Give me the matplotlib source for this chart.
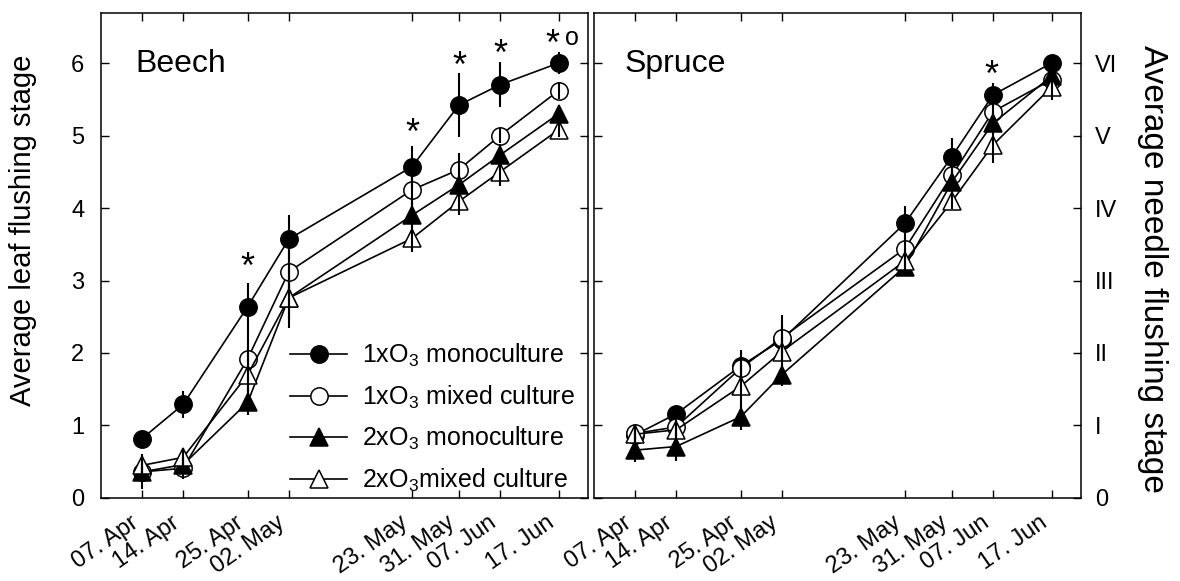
import matplotlib
matplotlib.use("Agg")
import matplotlib.pyplot as plt
import matplotlib.dates as mdates
import numpy as np
import pandas as pd

plt.rcParams['font.family'] = ['Liberation Sans', 'DejaVu Sans']
plt.rcParams['mathtext.fontset'] = 'custom'
plt.rcParams['mathtext.rm'] = 'Liberation Sans'
plt.rcParams['mathtext.default'] = 'regular'

# ---------------- data ----------------
dates = ["2003-04-07", "2003-04-14", "2003-04-25", "2003-05-02",
         "2003-05-23", "2003-05-31", "2003-06-07", "2003-06-17"]
date_labels = ["07. Apr", "14. Apr", "25. Apr", "02. May",
               "23. May", "31. May", "07. Jun", "17. Jun"]

series_labels = ["1xO$_3$ monoculture", "1xO$_3$ mixed culture",
                 "2xO$_3$ monoculture", "2xO$_3$mixed culture"]

# Beech
beech_mono1 = [0.82, 1.29, 2.64, 3.57, 4.57, 5.42, 5.70, 6.00]
beech_mono1_err = [0.05, 0.18, 0.33, 0.34, 0.29, 0.44, 0.31, 0.15]
beech_mixed1 = [0.36, 0.41, 1.92, 3.12, 4.25, 4.53, 5.00, 5.62]
beech_mixed1_err = [0.24, 0.15, 0.45, 0.30, 0.30, 0.23, 0.10, 0.12]
beech_mono2 = [0.36, 0.46, 1.32, 2.76, 3.90, 4.32, 4.73, 5.30]
beech_mono2_err = [0.10, 0.10, 0.18, 0.30, 0.25, 0.20, 0.15, 0.10]
beech_mixed2 = [0.45, 0.56, 1.70, 2.76, 3.58, 4.09, 4.50, 5.08]
beech_mixed2_err = [0.13, 0.10, 0.30, 0.42, 0.19, 0.18, 0.20, 0.10]

# Spruce
spruce_mono1 = [0.87, 1.16, 1.82, 2.18, 3.79, 4.71, 5.56, 6.00]
spruce_mono1_err = [0.05, 0.10, 0.20, 0.20, 0.24, 0.25, 0.16, 0.05]
spruce_mixed1 = [0.89, 0.98, 1.79, 2.21, 3.44, 4.45, 5.33, 5.77]
spruce_mixed1_err = [0.11, 0.15, 0.25, 0.31, 0.15, 0.20, 0.15, 0.10]
spruce_mono2 = [0.66, 0.71, 1.12, 1.70, 3.19, 4.36, 5.17, 5.82]
spruce_mono2_err = [0.16, 0.20, 0.18, 0.15, 0.10, 0.15, 0.15, 0.05]
spruce_mixed2 = [0.88, 0.94, 1.54, 2.02, 3.27, 4.09, 4.87, 5.67]
spruce_mixed2_err = [0.10, 0.10, 0.30, 0.20, 0.10, 0.10, 0.25, 0.18]

# significance marks
beech_sig_idx = [2, 4, 5, 6, 7]
beech_sig_y = [3.26, 5.12, 6.04, 6.21, 6.34]
spruce_sig_idx = [6]
spruce_sig_y = [5.92]

y_ticks = [0, 1, 2, 3, 4, 5, 6]
left_tick_labels = ["0", "1", "2", "3", "4", "5", "6"]
right_tick_labels = ["0", "I", "II", "III", "IV", "V", "VI"]

# ---------------- plotting ----------------
x = pd.to_datetime(dates)
xnum = mdates.date2num(x)

fig = plt.figure(figsize=(11.8, 5.81), dpi=100)
ax1 = fig.add_axes([0.0856, 0.1429, 0.4127, 0.8347])
ax2 = fig.add_axes([0.5034, 0.1429, 0.4127, 0.8347])

styles = [dict(marker='o', mfc='black'),
          dict(marker='o', mfc='white'),
          dict(marker='^', mfc='black'),
          dict(marker='^', mfc='white')]
ms = [12.5, 12.5, 12.5, 12.5]

beech = [(beech_mono1, beech_mono1_err), (beech_mixed1, beech_mixed1_err),
         (beech_mono2, beech_mono2_err), (beech_mixed2, beech_mixed2_err)]
spruce = [(spruce_mono1, spruce_mono1_err), (spruce_mixed1, spruce_mixed1_err),
          (spruce_mono2, spruce_mono2_err), (spruce_mixed2, spruce_mixed2_err)]

def draw(ax, data):
    handles = []
    for i, ((vals, errs), st) in enumerate(zip(data, styles)):
        h, = ax.plot(xnum, vals, color='black', lw=1.2, marker=st['marker'],
                     mfc=st['mfc'], mec='black', mew=1.1, ms=ms[i],
                     zorder=2 + i, label=series_labels[i])
        ax.errorbar(xnum, vals, yerr=errs, fmt='none', ecolor='black',
                    elinewidth=1.5, capsize=0, zorder=6)
        handles.append(h)
    return handles

handles = draw(ax1, beech)
draw(ax2, spruce)

xmin = xnum[0] - 7
xmax = xnum[-1] + 5
for ax in (ax1, ax2):
    ax.set_xlim(xmin, xmax)
    ax.set_ylim(0, 6.69)
    ax.set_xticks(xnum)
    ax.set_xticklabels(date_labels, rotation=35, ha='right',
                       rotation_mode='default', fontsize=16.5)
    ax.set_yticks(y_ticks)
    ax.tick_params(direction='in', length=6, width=1.0, top=True,
                   left=True, right=True, labelsize=17, pad=6)
    ax.tick_params(axis='x', pad=10)
    for sp in ax.spines.values():
        sp.set_linewidth(1.1)

ax1.set_yticklabels(left_tick_labels)
ax1.tick_params(axis='y', labelleft=True, labelright=False, pad=12)
ax2.set_yticklabels(right_tick_labels)
ax2.tick_params(axis='y', labelleft=False, labelright=True, pad=10)

fig.text(0.0199, 0.604, "Average leaf flushing stage", fontsize=21,
         rotation=90, ha='center', va='center')
fig.text(0.9765, 0.537, "Average needle flushing stage", fontsize=24,
         rotation=270, ha='center', va='center')

ax1.text(0.07, 0.895, "Beech", transform=ax1.transAxes, fontsize=23,
         va='center', ha='left')
ax2.text(0.063, 0.895, "Spruce", transform=ax2.transAxes, fontsize=23,
         va='center', ha='left')

for idx, yv in zip(beech_sig_idx, beech_sig_y):
    xo = xnum[idx] - (1.0 if idx == 7 else 0)
    ax1.text(xo, yv - 0.1, "*", fontsize=26, ha='center', va='center')
ax1.text(xnum[7] + 2.3, 6.34, "o", fontsize=18, ha='center', va='center')
for idx, yv in zip(spruce_sig_idx, spruce_sig_y):
    ax2.text(xnum[idx] - 0.3, yv - 0.1, "*", fontsize=26, ha='center', va='center')

leg = ax1.legend(handles=handles, loc='upper left',
                 bbox_to_anchor=(0.388, 0.322), frameon=False, fontsize=18,
                 handlelength=2.3, handletextpad=0.6, labelspacing=0.58,
                 borderpad=0, borderaxespad=0, markerscale=1.0)

fig.savefig("out.png", dpi=100)
